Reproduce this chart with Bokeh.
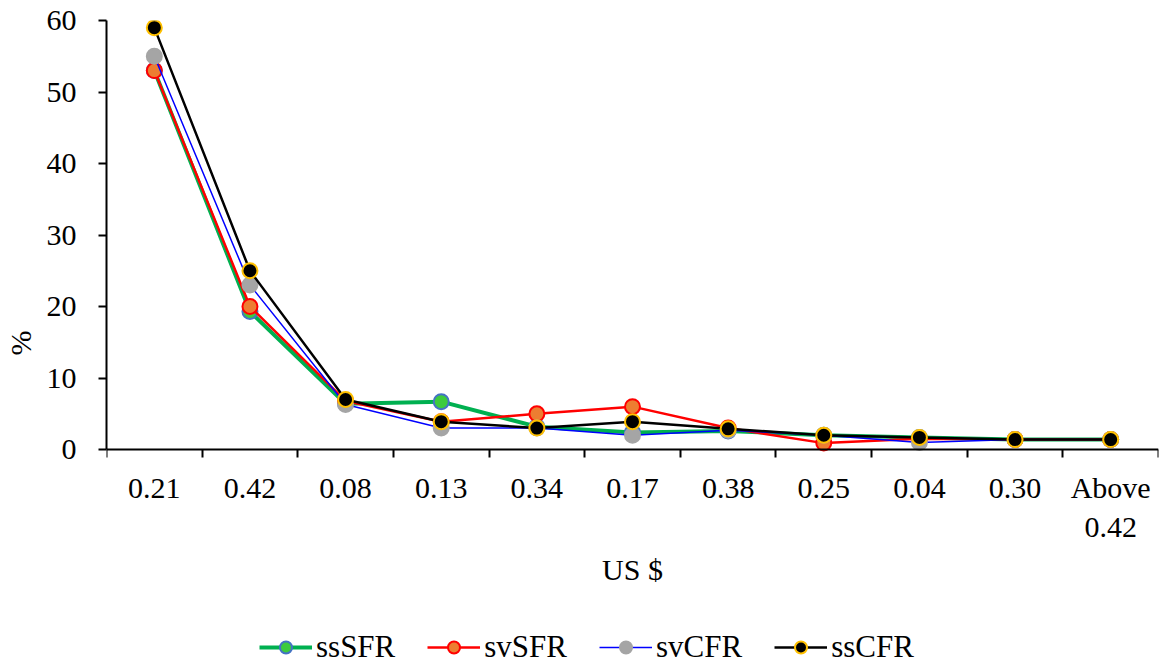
import numpy as np
from bokeh.plotting import figure
from bokeh.models import Range1d, FixedTicker, Legend, LegendItem
from bokeh.embed import file_html
from bokeh.resources import INLINE

categories = ["0.21", "0.42", "0.08", "0.13", "0.34", "0.17", "0.38", "0.25", "0.04", "0.30", "Above\n0.42"]
ssSFR = [53.0, 19.3, 6.4, 6.7, 3.2, 2.4, 2.6, 2.0, 1.7, 1.4, 1.4]
svSFR = [53.0, 20.0, 6.8, 3.9, 5.0, 6.0, 3.0, 0.9, 1.5, 1.4, 1.4]
svCFR = [55.0, 23.0, 6.3, 3.0, 3.0, 2.0, 2.7, 2.0, 1.0, 1.4, 1.4]
ssCFR = [59.0, 25.0, 7.0, 3.9, 3.0, 3.9, 2.9, 2.0, 1.7, 1.4, 1.4]
y_ticks = [0, 10, 20, 30, 40, 50, 60]

FONT = "Liberation Serif"
n = len(categories)
xs = list(np.arange(n) + 0.5)

# frame extends to the bottom of the canvas; x axis sits at y=0
p = figure(width=1168, height=665, output_backend="svg", toolbar_location=None,
           x_range=Range1d(0, n), y_range=Range1d(-30.2, 60),
           min_border_left=104, min_border_right=10, min_border_top=20, min_border_bottom=0)
p.outline_line_color = None
p.grid.visible = False
p.background_fill_color = "white"

# x axis
xa = p.xaxis[0]
xa.fixed_location = 0
xa.ticker = FixedTicker(ticks=xs, minor_ticks=list(range(n + 1)))
xa.major_label_overrides = {float(x): c for x, c in zip(xs, categories)}
xa.major_tick_line_color = None
xa.major_tick_out = 8
xa.major_tick_in = 0
xa.minor_tick_out = 8
xa.minor_tick_in = 0
xa.minor_tick_line_color = "black"
xa.minor_tick_line_width = 2
xa.axis_line_color = "black"
xa.axis_line_width = 2
xa.major_label_standoff = 13
xa.major_label_text_font = FONT
xa.major_label_text_font_size = "30px"
xa.major_label_text_color = "black"
xa.axis_label = "US $"
xa.axis_label_text_font = FONT
xa.axis_label_text_font_size = "30px"
xa.axis_label_text_font_style = "normal"
xa.axis_label_text_color = "black"
xa.axis_label_standoff = 7

# y axis
ya = p.yaxis[0]
ya.ticker = FixedTicker(ticks=y_ticks)
ya.bounds = (0, 60)
ya.minor_tick_line_color = None
ya.major_tick_out = 8
ya.major_tick_in = 0
ya.major_tick_line_width = 2
ya.axis_line_width = 2
ya.axis_line_color = "black"
ya.major_label_standoff = 22
ya.major_label_text_font = FONT
ya.major_label_text_font_size = "30px"
ya.major_label_text_color = "black"
ya.axis_label = "%"
ya.axis_label_text_font = FONT
ya.axis_label_text_font_size = "30px"
ya.axis_label_text_font_style = "normal"
ya.axis_label_text_color = "black"
ya.axis_label_standoff = 7

series = [
    ("ssSFR", ssSFR, "#00B050", 4, "#3DCB3D", "#4472C4"),
    ("svSFR", svSFR, "#FF0000", 2.5, "#ED7D31", "#FF0000"),
    ("svCFR", svCFR, "#0000FF", 1.5, "#A5A5A5", "#A5A5A5"),
    ("ssCFR", ssCFR, "#000000", 2.5, "#000000", "#FFC000"),
]
items = []
for name, vals, lc, lw, fc, oc in series:
    l = p.line(xs, vals, line_color=lc, line_width=lw)
    s = p.scatter(xs, vals, size=15, fill_color=fc, line_color=oc, line_width=2)
    items.append(LegendItem(label=name, renderers=[l, s]))

legend = Legend(items=items, orientation="horizontal", location=(153, 0),
                label_text_font=FONT, label_text_font_size="31px",
                label_text_color="black",
                border_line_color=None, background_fill_alpha=0,
                glyph_width=53, glyph_height=30, spacing=32,
                label_standoff=4, padding=0, margin=0)
p.add_layout(legend, "center")

open("out.html", "w").write(file_html(p, INLINE))
